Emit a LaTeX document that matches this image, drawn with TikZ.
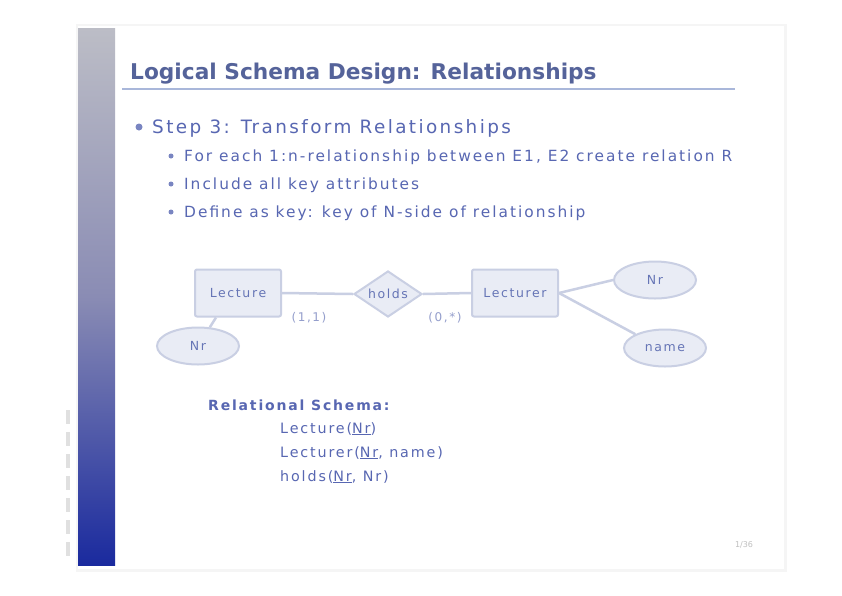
\documentclass[tikz,border=0pt]{standalone}
\usepackage{fontspec}
\setmainfont{DejaVu Sans}
\newfontfamily\slidefont[LetterSpace=13]{DejaVu Sans}
\usetikzlibrary{shapes.geometric,positioning}
\definecolor{slidebg}{HTML}{FFFFFF}
\definecolor{barTop}{HTML}{BCBDC6}
\definecolor{barMid}{HTML}{8A8CB4}
\definecolor{barBot}{HTML}{1A2A9E}
\definecolor{titleCol}{HTML}{55639A}
\definecolor{textCol}{HTML}{5867B2}
\definecolor{ruleCol}{HTML}{A9B7DA}
\definecolor{erFill}{HTML}{E9ECF5}
\definecolor{erLine}{HTML}{C9CFE3}
\definecolor{erText}{HTML}{6675B6}

\begin{document}
\begin{tikzpicture}[x=1pt,y=-1pt,
  entity/.style={draw=erLine,fill=erFill,line width=2pt,rounded corners=2pt,
    minimum width=86pt,minimum height=47pt,text=erText,font=\slidefont\fontsize{12.5}{14}\selectfont},
  relship/.style={draw=erLine,fill=erFill,line width=2pt,diamond,aspect=1.5,
    minimum width=68pt,minimum height=46pt,inner sep=0pt,text=erText,font=\slidefont\fontsize{12.5}{14}\selectfont},
  attrib/.style={draw=erLine,fill=erFill,line width=2pt,ellipse,
    minimum width=82pt,minimum height=37pt,text=erText,font=\slidefont\fontsize{12.5}{14}\selectfont},
  card/.style={text=erText!70,font=\slidefont\fontsize{12}{13}\selectfont},
  link/.style={erLine,line width=2.5pt},
  item/.style={anchor=base west,text=textCol,inner sep=0pt},
  dot/.style={fill=textCol!80,circle,inner sep=0pt,minimum size=#1}]
  \useasboundingbox (0,0) rectangle (842,595);
  % slide frame and side bar
  \fill[black!4] (76,24) rectangle (787,572);
  \fill[slidebg] (78,26) rectangle (784,569);
  \shade[top color=barTop,bottom color=barBot,middle color=barMid] (78,28) rectangle (115,565);
  \foreach \k in {0,...,6}
    \fill[black!12] (66,{410+\k*22}) rectangle (70,{424+\k*22});

  % title
  \node[item,text=titleCol,font=\bfseries\fontsize{21.7}{25}\selectfont] (title) at (130,79)
    {Logical Schema Design: Relationships};
  \draw[ruleCol,line width=2pt] (122,89) -- (735,89);

  % bullets
  \node[dot=7pt] (b0) at (139,127) {};
  \node[item,font=\slidefont\fontsize{18.4}{20}\selectfont] (step) at (152,133) {Step 3: Transform Relationships};
  \node[dot=5pt] (b1) at (171,156) {};
  \node[item,font=\slidefont\fontsize{15.4}{17}\selectfont] (s1) at (184,161)
    {For each 1:n-relationship between E1, E2 create relation R};
  \node[dot=5pt] (b2) at (171,184) {};
  \node[item,font=\slidefont\fontsize{15.4}{17}\selectfont] (s2) at (184,189) {Include all key attributes};
  \node[dot=5pt] (b3) at (171,212) {};
  \node[item,font=\slidefont\fontsize{15.4}{17}\selectfont] (s3) at (184,217)
    {Define as key: key of N-side of relationship};

  % ER diagram
  \node[entity] (lecture) at (238,293) {Lecture};
  \node[relship] (holds) at (388,294) {holds};
  \node[entity] (lecturer) at (515,293) {Lecturer};
  \node[attrib] (lnr) at (198,346) {Nr};
  \node[attrib] (rnr) at (655,280) {Nr};
  \node[attrib] (rname) at (665,348) {name};
  \draw[link] (lecture.east) -- (holds.west);
  \draw[link] (holds.east) -- (lecturer.west);
  \draw[link] (lecture.south west) ++(22,0) coordinate (lc) -- (lnr);
  \draw[link] (lecturer.east) -- (rnr.west);
  \draw[link] (lecturer.east) -- (rname.north west);
  \node[card] (c1) at (309,318) {(1,1)};
  \node[card] (c2) at (445,318) {(0,*)};

  % relational schema
  \node[item,font=\slidefont\bfseries\fontsize{14}{16}\selectfont] (rs) at (208,410) {Relational Schema:};
  \node[item,font=\slidefont\fontsize{14.3}{16}\selectfont] (r1) at (280,433) {Lecture(\underline{Nr})};
  \node[item,font=\slidefont\fontsize{14.3}{16}\selectfont] (r2) at (280,457) {Lecturer(\underline{Nr}, name)};
  \node[item,font=\slidefont\fontsize{14.3}{16}\selectfont] (r3) at (280,481) {holds(\underline{Nr}, Nr)};

  % page number
  \node[text=black!25,font=\fontsize{8}{9}\selectfont] (page) at (744,545) {1/36};
\end{tikzpicture}
\end{document}
